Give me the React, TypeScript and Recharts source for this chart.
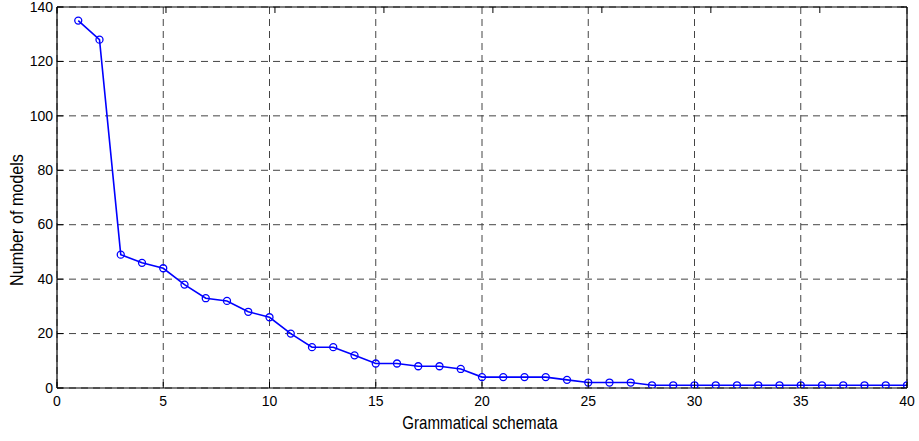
import React from 'react';
import { LineChart, Line, XAxis, YAxis, CartesianGrid } from 'recharts';

const schemata = [1,2,3,4,5,6,7,8,9,10,11,12,13,14,15,16,17,18,19,20,21,22,23,24,25,26,27,28,29,30,31,32,33,34,35,36,37,38,39,40];
const models = [135,128,49,46,44,38,33,32,28,26,20,15,15,12,9,9,8,8,7,4,4,4,4,3,2,2,2,1,1,1,1,1,1,1,1,1,1,1,1,1];
const xTicks = [0,5,10,15,20,25,30,35,40];
const yTicks = [0,20,40,60,80,100,120,140];

const data = schemata.map((s, i) => ({ s, n: models[i] }));

const FONT = '"Liberation Sans", Arial, sans-serif';
const TL = 6;

const BottomTick = (p: any) => (
  <g>
    <line x1={p.x} y1={p.y} x2={p.x} y2={p.y - TL} stroke="#000" strokeWidth={1} />
    <text x={p.x} y={p.y + 14} textAnchor="middle" dominantBaseline="middle" fontFamily={FONT} fontSize={14} fill="#000">{p.payload.value}</text>
  </g>
);
const TopTick = (p: any) => (
  <line x1={p.x} y1={p.y} x2={p.x} y2={p.y + TL} stroke="#000" strokeWidth={1} />
);
const LeftTick = (p: any) => (
  <g>
    <line x1={p.x} y1={p.y} x2={p.x + TL} y2={p.y} stroke="#000" strokeWidth={1} />
    <text x={p.x - 4} y={p.y + 1} textAnchor="end" dominantBaseline="middle" fontFamily={FONT} fontSize={14} fill="#000">{p.payload.value}</text>
  </g>
);
const RightTick = (p: any) => (
  <line x1={p.x} y1={p.y} x2={p.x - TL} y2={p.y} stroke="#000" strokeWidth={1} />
);

const XLabel = (p: any) => {
  const vb = p.viewBox;
  const cx = vb.x + vb.width / 2 - 2;
  return (
    <text transform={`translate(${cx} 424) scale(0.84 1)`} x={0} y={0} textAnchor="middle" dominantBaseline="middle" fontFamily={FONT} fontSize={18} fill="#000">Grammatical schemata</text>
  );
};
const YLabel = () => (
  <text transform="translate(18 220) rotate(-90) scale(0.85 1)" x={0} y={0} textAnchor="middle" dominantBaseline="middle" fontFamily={FONT} fontSize={19} fill="#000">Number of models</text>
);

export default function App() {
  return (
    <div style={{ position: 'absolute', left: 0, top: 0, width: 919, height: 441, background: '#fff' }}>
      <LineChart width={919} height={441} data={data} margin={{ top: 0, right: 0, bottom: 0, left: 0 }}>
        <CartesianGrid stroke="#444" strokeDasharray="7 5" strokeWidth={1} />
        <XAxis dataKey="s" type="number" domain={[0, 40]} ticks={xTicks} height={53}
          axisLine={{ stroke: '#000', strokeWidth: 1.2 }} tickLine={false} tickSize={0} tickMargin={0}
          tick={<BottomTick />} interval={0} allowDataOverflow
          label={<XLabel />} />
        <XAxis xAxisId="top" orientation="top" type="number" domain={[0, 40]} ticks={xTicks} height={7}
          axisLine={{ stroke: '#000', strokeWidth: 1.2 }} tickLine={false} tickSize={0} tickMargin={0}
          tick={<TopTick />} interval={0} allowDataOverflow />
        <YAxis type="number" domain={[0, 140]} ticks={yTicks} width={57}
          axisLine={{ stroke: '#000', strokeWidth: 1.2 }} tickLine={false} tickSize={0} tickMargin={0}
          tick={<LeftTick />} interval={0} allowDataOverflow
          label={<YLabel />} />
        <YAxis yAxisId="right" orientation="right" type="number" domain={[0, 140]} ticks={yTicks} width={12}
          axisLine={{ stroke: '#000', strokeWidth: 1.2 }} tickLine={false} tickSize={0} tickMargin={0}
          tick={<RightTick />} interval={0} allowDataOverflow />
        <Line type="linear" dataKey="n" stroke="#0000ff" strokeWidth={1.6} isAnimationActive={false}
          dot={{ r: 3.5, fill: 'none', stroke: '#0000ff', strokeWidth: 1.3 }} />
      </LineChart>
    </div>
  );
}
